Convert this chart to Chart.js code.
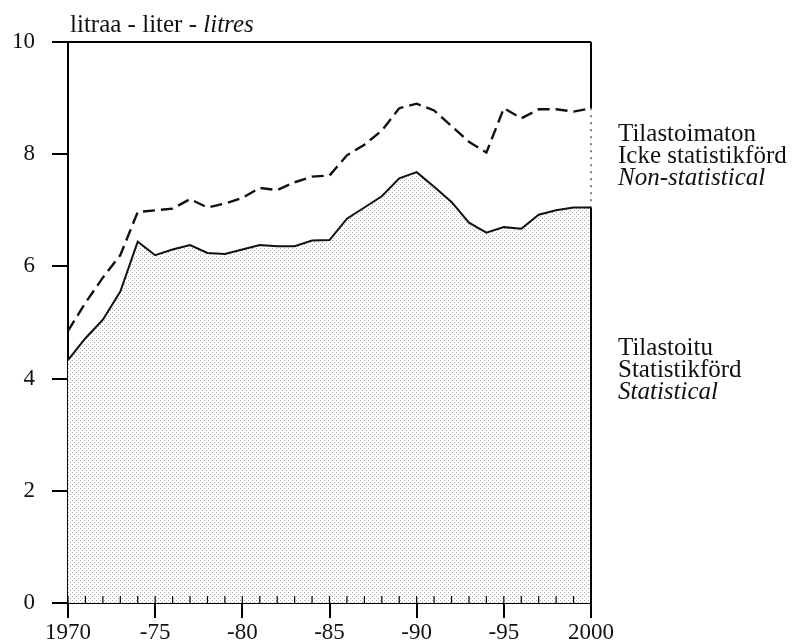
<!DOCTYPE html>
<html>
<head>
<meta charset="utf-8">
<script src="https://cdn.jsdelivr.net/npm/chart.js@4/dist/chart.umd.min.js"></script>
<style>
  html, body { margin: 0; padding: 0; background: #fff; }
  #wrap { position: relative; width: 792px; height: 643px; }
  canvas { position: absolute; left: 0; top: 0; }
  .lbl {
    position: absolute;
    font-family: "Liberation Serif", "Times New Roman", serif;
    font-size: 25px;
    line-height: 22px;
    color: #111;
    white-space: nowrap;
  }
  .lbl i { font-style: italic; }
</style>
</head>
<body>
<div id="wrap">
  <canvas id="chart" width="792" height="643"></canvas>
  <div class="lbl" style="left:70px; top:13px;">litraa - liter - <i>litres</i></div>
  <div class="lbl" style="left:618px; top:122px;">Tilastoimaton<br>Icke statistikförd<br><i>Non-statistical</i></div>
  <div class="lbl" style="left:618px; top:336px;">Tilastoitu<br>Statistikförd<br><i>Statistical</i></div>
</div>
<script>
// ─── Data ───────────────────────────────────────────────────────────────
const years = [
  1970, 1971, 1972, 1973, 1974, 1975, 1976, 1977, 1978, 1979,
  1980, 1981, 1982, 1983, 1984, 1985, 1986, 1987, 1988, 1989,
  1990, 1991, 1992, 1993, 1994, 1995, 1996, 1997, 1998, 1999, 2000,
];

// statistical consumption (solid line, shaded area)
const statistical = [
  4.33, 4.72, 5.05, 5.55, 6.44, 6.20, 6.30, 6.38, 6.24, 6.22,
  6.30, 6.38, 6.36, 6.36, 6.46, 6.47, 6.85, 7.05, 7.25, 7.57,
  7.68, 7.42, 7.15, 6.78, 6.60, 6.70, 6.67, 6.92, 7.00, 7.05, 7.05,
];

// statistical + non-statistical (dashed line)
const total = [
  4.85, 5.35, 5.80, 6.20, 6.97, 7.00, 7.03, 7.20, 7.05, 7.12,
  7.22, 7.40, 7.36, 7.50, 7.60, 7.62, 7.98, 8.17, 8.42, 8.82,
  8.90, 8.78, 8.50, 8.22, 8.03, 8.82, 8.64, 8.80, 8.80, 8.76, 8.82,
];

const xTickLabels = ["1970", "-75", "-80", "-85", "-90", "-95", "2000"];
const yTicks = [0, 2, 4, 6, 8, 10];

// ─── Stipple fill for the statistical area ──────────────────────────────
function makeStipple() {
  const c = document.createElement("canvas");
  c.width = 4;
  c.height = 4;
  const g = c.getContext("2d");
  g.fillStyle = "#ffffff";
  g.fillRect(0, 0, 4, 4);
  g.fillStyle = "#a8a8a8";
  g.fillRect(0, 0, 1, 1);
  g.fillRect(2, 2, 1, 1);
  return g.createPattern(c, "repeat");
}

// ─── Frame: top/right borders + yearly inner ticks ──────────────────────
const framePlugin = {
  id: "frame",
  afterDatasetsDraw(chart) {
    const { ctx, chartArea: a, scales } = chart;
    const x = scales.x, y = scales.y;
    ctx.save();
    ctx.strokeStyle = "#000";

    // yearly inner ticks on the base line
    ctx.lineWidth = 1.2;
    ctx.beginPath();
    years.forEach((yr) => {
      const px = x.getPixelForValue(yr);
      ctx.moveTo(px, a.bottom);
      ctx.lineTo(px, a.bottom - 7);
    });
    ctx.stroke();

    // top border
    ctx.lineWidth = 2;
    ctx.beginPath();
    ctx.moveTo(a.left, a.top);
    ctx.lineTo(a.right, a.top);
    ctx.stroke();

    // right border: solid, dotted between the two curves
    const last = years.length - 1;
    const yTot = y.getPixelForValue(total[last]);
    const yStat = y.getPixelForValue(statistical[last]);
    ctx.beginPath();
    ctx.moveTo(a.right, a.top);
    ctx.lineTo(a.right, yTot);
    ctx.moveTo(a.right, yStat);
    ctx.lineTo(a.right, a.bottom);
    ctx.stroke();
    ctx.lineWidth = 1;
    ctx.setLineDash([2, 5]);
    ctx.beginPath();
    ctx.moveTo(a.right, yTot);
    ctx.lineTo(a.right, yStat);
    ctx.stroke();
    ctx.restore();
  },
};

// ─── Chart ──────────────────────────────────────────────────────────────
const canvas = document.getElementById("chart");
const stipple = makeStipple();
const serif = { family: "'Liberation Serif', 'Times New Roman', serif", size: 23 };

new Chart(canvas, {
  type: "line",
  data: {
    labels: years,
    datasets: [
      {
        label: "Tilastoimaton",
        data: years.map((yr, i) => ({ x: yr, y: total[i] })),
        borderColor: "#111",
        borderWidth: 2.4,
        borderDash: [12, 6],
        pointRadius: 0,
        fill: false,
        tension: 0,
      },
      {
        label: "Tilastoitu",
        data: years.map((yr, i) => ({ x: yr, y: statistical[i] })),
        borderColor: "#111",
        borderWidth: 2,
        backgroundColor: stipple,
        pointRadius: 0,
        fill: "origin",
        tension: 0,
      },
    ],
  },
  options: {
    responsive: false,
    animation: false,
    layout: { padding: { top: 42, right: 201, left: 0, bottom: 0 } },
    plugins: {
      legend: { display: false },
      tooltip: { enabled: false },
    },
    scales: {
      x: {
        type: "linear",
        min: 1970,
        max: 2000,
        afterFit: (s) => { s.height = 40; },
        afterBuildTicks: (s) => {
          s.ticks = xTickLabels.map((_, i) => ({ value: 1970 + i * 5 }));
        },
        ticks: {
          color: "#111",
          font: serif,
          padding: 1,
          maxRotation: 0,
          autoSkip: false,
          callback: (v) => xTickLabels[Math.round((v - 1970) / 5)],
        },
        grid: {
          drawOnChartArea: false,
          color: "#000",
          lineWidth: 2,
          tickLength: 15,
        },
        border: { color: "#000", width: 2 },
      },
      y: {
        min: 0,
        max: 10,
        afterFit: (s) => { s.width = 68; },
        afterBuildTicks: (s) => {
          s.ticks = yTicks.map((v) => ({ value: v }));
        },
        ticks: {
          color: "#111",
          font: serif,
          padding: 17,
        },
        grid: {
          drawOnChartArea: false,
          color: "#000",
          lineWidth: 2,
          tickLength: 16,
        },
        border: { color: "#000", width: 2 },
      },
    },
  },
  plugins: [framePlugin],
});
</script>
</body>
</html>
